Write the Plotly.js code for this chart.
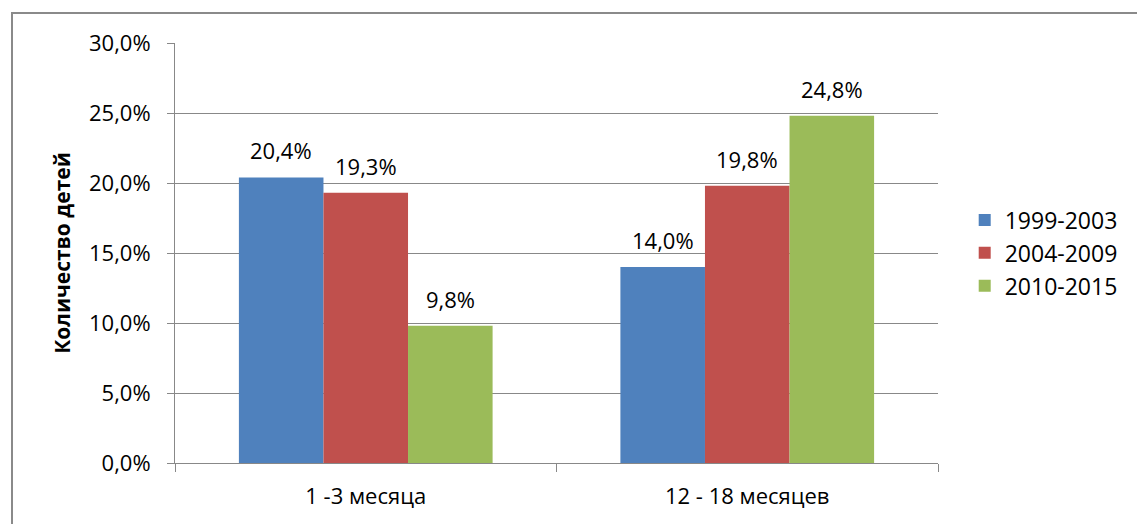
<!DOCTYPE html>
<html>
<head>
<meta charset="utf-8">
<script src="https://cdn.plot.ly/plotly-3.0.1.min.js"></script>
<style>
html,body{margin:0;padding:0;background:#fff;}
#frame{position:absolute;left:11px;top:12px;width:1200px;height:600px;border-left:2px solid #8a8a8a;border-top:2px solid #8a8a8a;box-sizing:border-box;pointer-events:none;z-index:5;}
#chart{position:absolute;left:0;top:0;width:1137px;height:524px;}
</style>
</head>
<body>
<div id="chart"></div>
<div id="frame"></div>
<script>
const categories = ["1 -3 месяца", "12 - 18 месяцев"];
const seriesNames = ["1999-2003", "2004-2009", "2010-2015"];
const s1999 = [20.4, 14.0];
const s2004 = [19.3, 19.8];
const s2010 = [9.8, 24.8];
const colors = ["#4F81BD", "#C0504D", "#9BBB59"];
const yTickVals = [0, 5, 10, 15, 20, 25, 30];
const yTickText = ["0,0%", "5,0%", "10,0%", "15,0%", "20,0%", "25,0%", "30,0%"];
const yTitle = "Количество детей";

const FONT = "Open Sans, Liberation Sans, sans-serif";
const seriesVals = [s1999, s2004, s2010];
const fmt = v => v.toFixed(1).replace(".", ",") + "%";

const bargap = 0.335;
const traces = seriesVals.map((vals, j) => ({
  type: "bar",
  name: seriesNames[j],
  x: [0, 1],
  y: vals,
  marker: {color: colors[j], line: {width: 0}},
  hoverinfo: "skip"
}));

const w = (1 - bargap) / seriesVals.length;
const annotations = [];
seriesVals.forEach((vals, j) => {
  vals.forEach((v, i) => {
    annotations.push({
      x: i + (j - (seriesVals.length - 1) / 2) * w,
      y: v, xref: "x", yref: "y",
      text: fmt(v), showarrow: false,
      yanchor: "bottom", yshift: 10,
      font: {family: FONT, size: 22, color: "#000"}
    });
  });
});

const layout = {
  width: 1137, height: 524,
  margin: {l: 175, r: 199, t: 43, b: 61},
  paper_bgcolor: "#fff", plot_bgcolor: "#fff",
  barmode: "group", bargap: bargap, bargroupgap: 0,
  font: {family: FONT, size: 22, color: "#000"},
  showlegend: true,
  legend: {x: 1.035, xanchor: "left", y: 0.5, yanchor: "middle",
           font: {family: FONT, size: 23, color: "#000"}, itemwidth: 30, tracegroupgap: 0},
  xaxis: {
    type: "linear", range: [-0.5, 1.5],
    tickvals: [0, 1], ticktext: categories,
    showgrid: false, zeroline: false,
    showline: true, linecolor: "#888", linewidth: 1,
    ticks: "", fixedrange: true, ticklabelstandoff: 14,
    tickfont: {family: FONT, size: 22}
  },
  xaxis2: {
    overlaying: "x", range: [-0.5, 1.5], tickvals: [-0.5, 0.5, 1.5],
    ticks: "outside", ticklen: 8, tickcolor: "#888", showticklabels: false,
    showgrid: false, zeroline: false, showline: false, anchor: "y"
  },
  yaxis: {
    range: [0, 30], tickvals: yTickVals, ticktext: yTickText,
    showgrid: true, gridcolor: "#888", gridwidth: 1,
    zeroline: false, showline: true, linecolor: "#888", linewidth: 1,
    ticks: "outside", ticklen: 7, tickcolor: "#888",
    ticklabelstandoff: 12,
    tickfont: {family: FONT, size: 22},
    title: {text: yTitle, font: {family: FONT, size: 21, weight: "bold"}, standoff: 12}
  },
  annotations: annotations
};

traces.push({type: "scatter", x: [0], y: [0], xaxis: "x2", yaxis: "y", mode: "none", showlegend: false, hoverinfo: "skip"});

Plotly.newPlot("chart", traces, layout, {displayModeBar: false, staticPlot: true});
</script>
</body>
</html>
